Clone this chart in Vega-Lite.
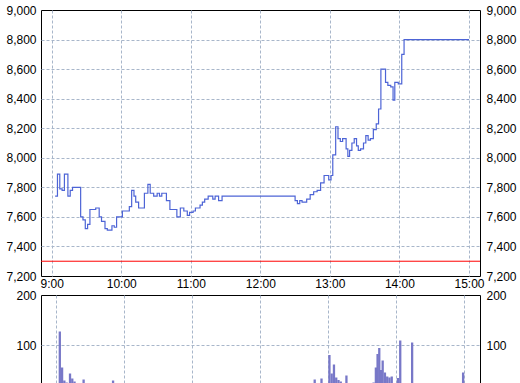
{
  "$schema": "https://vega.github.io/schema/vega-lite/v6.json",
  "padding": {"left": 5, "top": 3, "right": 0, "bottom": 0},
  "bounds": "flush",
  "spacing": 19,
  "config": {
    "view": {"stroke": "#000000", "strokeWidth": 1},
    "axis": {
      "labelFont": "Liberation Sans",
      "labelFontSize": 12,
      "labelColor": "#000000",
      "ticks": false,
      "domain": false,
      "title": null,
      "gridColor": "#a8b6ca",
      "gridDash": [3, 2],
      "gridWidth": 1,
      "labelFlush": false,
      "labelOverlap": false
    }
  },
  "datasets": {
    "price": [
      {"t": "2024-01-02T09:03:00", "p": 7740},
      {"t": "2024-01-02T09:05:00", "p": 7890},
      {"t": "2024-01-02T09:07:00", "p": 7790},
      {"t": "2024-01-02T09:09:00", "p": 7780},
      {"t": "2024-01-02T09:11:00", "p": 7890},
      {"t": "2024-01-02T09:14:00", "p": 7740},
      {"t": "2024-01-02T09:16:00", "p": 7780},
      {"t": "2024-01-02T09:18:00", "p": 7800},
      {"t": "2024-01-02T09:25:00", "p": 7600},
      {"t": "2024-01-02T09:27:00", "p": 7580},
      {"t": "2024-01-02T09:29:00", "p": 7520},
      {"t": "2024-01-02T09:31:00", "p": 7550},
      {"t": "2024-01-02T09:33:00", "p": 7650},
      {"t": "2024-01-02T09:38:00", "p": 7660},
      {"t": "2024-01-02T09:41:00", "p": 7600},
      {"t": "2024-01-02T09:43:00", "p": 7570},
      {"t": "2024-01-02T09:46:00", "p": 7520},
      {"t": "2024-01-02T09:48:00", "p": 7510},
      {"t": "2024-01-02T09:52:00", "p": 7540},
      {"t": "2024-01-02T09:54:00", "p": 7530},
      {"t": "2024-01-02T09:56:00", "p": 7600},
      {"t": "2024-01-02T10:01:00", "p": 7640},
      {"t": "2024-01-02T10:07:00", "p": 7670},
      {"t": "2024-01-02T10:09:00", "p": 7780},
      {"t": "2024-01-02T10:11:00", "p": 7740},
      {"t": "2024-01-02T10:12:30", "p": 7700},
      {"t": "2024-01-02T10:15:00", "p": 7660},
      {"t": "2024-01-02T10:20:00", "p": 7760},
      {"t": "2024-01-02T10:23:00", "p": 7820},
      {"t": "2024-01-02T10:25:00", "p": 7760},
      {"t": "2024-01-02T10:28:00", "p": 7740},
      {"t": "2024-01-02T10:31:00", "p": 7760},
      {"t": "2024-01-02T10:33:00", "p": 7740},
      {"t": "2024-01-02T10:35:00", "p": 7760},
      {"t": "2024-01-02T10:39:00", "p": 7710},
      {"t": "2024-01-02T10:42:00", "p": 7650},
      {"t": "2024-01-02T10:48:00", "p": 7600},
      {"t": "2024-01-02T10:51:00", "p": 7660},
      {"t": "2024-01-02T10:54:00", "p": 7640},
      {"t": "2024-01-02T10:57:00", "p": 7610},
      {"t": "2024-01-02T10:59:00", "p": 7630},
      {"t": "2024-01-02T11:02:00", "p": 7640},
      {"t": "2024-01-02T11:04:00", "p": 7660},
      {"t": "2024-01-02T11:08:00", "p": 7680},
      {"t": "2024-01-02T11:10:00", "p": 7700},
      {"t": "2024-01-02T11:12:00", "p": 7720},
      {"t": "2024-01-02T11:15:00", "p": 7740},
      {"t": "2024-01-02T11:19:00", "p": 7720},
      {"t": "2024-01-02T11:21:00", "p": 7740},
      {"t": "2024-01-02T11:24:00", "p": 7710},
      {"t": "2024-01-02T11:27:00", "p": 7740},
      {"t": "2024-01-02T12:30:00", "p": 7710},
      {"t": "2024-01-02T12:32:00", "p": 7690},
      {"t": "2024-01-02T12:34:00", "p": 7710},
      {"t": "2024-01-02T12:36:00", "p": 7700},
      {"t": "2024-01-02T12:40:00", "p": 7720},
      {"t": "2024-01-02T12:43:00", "p": 7750},
      {"t": "2024-01-02T12:46:00", "p": 7770},
      {"t": "2024-01-02T12:49:00", "p": 7780},
      {"t": "2024-01-02T12:52:00", "p": 7830},
      {"t": "2024-01-02T12:55:00", "p": 7880},
      {"t": "2024-01-02T12:59:00", "p": 7850},
      {"t": "2024-01-02T13:01:00", "p": 7880},
      {"t": "2024-01-02T13:02:30", "p": 8020},
      {"t": "2024-01-02T13:05:00", "p": 8210},
      {"t": "2024-01-02T13:07:00", "p": 8130},
      {"t": "2024-01-02T13:09:00", "p": 8110},
      {"t": "2024-01-02T13:11:00", "p": 8130},
      {"t": "2024-01-02T13:14:00", "p": 8060},
      {"t": "2024-01-02T13:15:30", "p": 8010},
      {"t": "2024-01-02T13:17:00", "p": 8050},
      {"t": "2024-01-02T13:19:00", "p": 8100},
      {"t": "2024-01-02T13:21:00", "p": 8130},
      {"t": "2024-01-02T13:23:00", "p": 8080},
      {"t": "2024-01-02T13:24:30", "p": 8050},
      {"t": "2024-01-02T13:26:30", "p": 8060},
      {"t": "2024-01-02T13:29:00", "p": 8100},
      {"t": "2024-01-02T13:31:00", "p": 8150},
      {"t": "2024-01-02T13:33:00", "p": 8120},
      {"t": "2024-01-02T13:35:00", "p": 8130},
      {"t": "2024-01-02T13:37:30", "p": 8190},
      {"t": "2024-01-02T13:40:00", "p": 8230},
      {"t": "2024-01-02T13:42:00", "p": 8330},
      {"t": "2024-01-02T13:44:00", "p": 8600},
      {"t": "2024-01-02T13:48:00", "p": 8510},
      {"t": "2024-01-02T13:50:00", "p": 8490},
      {"t": "2024-01-02T13:52:30", "p": 8480},
      {"t": "2024-01-02T13:54:30", "p": 8390},
      {"t": "2024-01-02T13:56:00", "p": 8510},
      {"t": "2024-01-02T13:59:00", "p": 8500},
      {"t": "2024-01-02T14:02:00", "p": 8700},
      {"t": "2024-01-02T14:04:00", "p": 8800},
      {"t": "2024-01-02T15:00:00", "p": 8800}
    ],
    "volume": [
      {"t": "2024-01-02T09:03:00", "v": 127},
      {"t": "2024-01-02T09:05:00", "v": 55},
      {"t": "2024-01-02T09:07:00", "v": 29},
      {"t": "2024-01-02T09:09:00", "v": 25},
      {"t": "2024-01-02T09:12:00", "v": 43},
      {"t": "2024-01-02T09:14:00", "v": 33},
      {"t": "2024-01-02T09:16:00", "v": 27},
      {"t": "2024-01-02T09:24:00", "v": 31},
      {"t": "2024-01-02T09:50:00", "v": 29},
      {"t": "2024-01-02T12:48:00", "v": 31},
      {"t": "2024-01-02T12:54:00", "v": 33},
      {"t": "2024-01-02T13:01:00", "v": 80},
      {"t": "2024-01-02T13:03:00", "v": 43},
      {"t": "2024-01-02T13:05:00", "v": 61},
      {"t": "2024-01-02T13:07:00", "v": 35},
      {"t": "2024-01-02T13:09:00", "v": 30},
      {"t": "2024-01-02T13:11:00", "v": 27},
      {"t": "2024-01-02T13:16:00", "v": 39},
      {"t": "2024-01-02T13:40:00", "v": 25},
      {"t": "2024-01-02T13:42:00", "v": 55},
      {"t": "2024-01-02T13:43:30", "v": 82},
      {"t": "2024-01-02T13:45:00", "v": 94},
      {"t": "2024-01-02T13:46:30", "v": 50},
      {"t": "2024-01-02T13:48:00", "v": 69},
      {"t": "2024-01-02T13:50:00", "v": 45},
      {"t": "2024-01-02T13:52:00", "v": 37},
      {"t": "2024-01-02T13:54:00", "v": 35},
      {"t": "2024-01-02T13:56:00", "v": 37},
      {"t": "2024-01-02T14:01:30", "v": 34},
      {"t": "2024-01-02T14:03:30", "v": 109},
      {"t": "2024-01-02T14:14:00", "v": 105},
      {"t": "2024-01-02T14:59:00", "v": 45}
    ],
    "base": [{"level": 7300}]
  },
  "vconcat": [
    {
      "width": 439,
      "height": 266,
      "layer": [
        {
          "data": {"name": "price"},
          "mark": {"type": "line", "interpolate": "step-after", "color": "#4d64d6", "strokeWidth": 1.2},
          "encoding": {
            "x": {
              "field": "t", "type": "temporal",
              "scale": {"domain": [
                {"year": 2024, "month": 1, "date": 2, "hours": 8, "minutes": 50, "seconds": 48},
                {"year": 2024, "month": 1, "date": 2, "hours": 15, "minutes": 9, "seconds": 30}
              ]},
              "axis": {
                "orient": "bottom", "format": "%-H:%M", "labelPadding": 2,
                "values": [
                  {"year": 2024, "month": 1, "date": 2, "hours": 9},
                  {"year": 2024, "month": 1, "date": 2, "hours": 10},
                  {"year": 2024, "month": 1, "date": 2, "hours": 11},
                  {"year": 2024, "month": 1, "date": 2, "hours": 12},
                  {"year": 2024, "month": 1, "date": 2, "hours": 13},
                  {"year": 2024, "month": 1, "date": 2, "hours": 14},
                  {"year": 2024, "month": 1, "date": 2, "hours": 15}
                ]
              }
            },
            "y": {
              "field": "p", "type": "quantitative",
              "scale": {"domain": [7200, 9000], "nice": false, "zero": false},
              "axis": {
                "orient": "left",
                "values": [7200, 7400, 7600, 7800, 8000, 8200, 8400, 8600, 8800, 9000],
                "format": ",d", "labelPadding": 5,
                "gridOpacity": {"condition": {"test": "datum.value <= 7200 || datum.value >= 9000", "value": 0}, "value": 1}
              }
            }
          }
        },
        {
          "data": {"name": "base"},
          "mark": {"type": "rule", "color": "#ff0000", "strokeWidth": 1},
          "encoding": {
            "y": {
              "field": "level", "type": "quantitative",
              "axis": {"orient": "right", "values": [7200, 7400, 7600, 7800, 8000, 8200, 8400, 8600, 8800, 9000], "format": ",d", "labelPadding": 6, "grid": false}
            }
          }
        }
      ],
      "resolve": {"axis": {"y": "independent"}}
    },
    {
      "width": 439,
      "height": 100,
      "data": {"name": "volume"},
      "layer": [
        {
          "mark": {"type": "bar", "color": "#7878c8", "width": 2.3},
          "encoding": {
            "x": {
              "field": "t", "type": "temporal",
              "scale": {"domain": [
                {"year": 2024, "month": 1, "date": 2, "hours": 8, "minutes": 50, "seconds": 48},
                {"year": 2024, "month": 1, "date": 2, "hours": 15, "minutes": 9, "seconds": 30}
              ]},
              "axis": {
                "orient": "bottom", "labels": false,
                "values": [
                  {"year": 2024, "month": 1, "date": 2, "hours": 9},
                  {"year": 2024, "month": 1, "date": 2, "hours": 10},
                  {"year": 2024, "month": 1, "date": 2, "hours": 11},
                  {"year": 2024, "month": 1, "date": 2, "hours": 12},
                  {"year": 2024, "month": 1, "date": 2, "hours": 13},
                  {"year": 2024, "month": 1, "date": 2, "hours": 14},
                  {"year": 2024, "month": 1, "date": 2, "hours": 15}
                ]
              }
            },
            "y": {
              "field": "v", "type": "quantitative",
              "scale": {"domain": [0, 200], "nice": false},
              "axis": {
                "orient": "left", "values": [100, 200], "labelPadding": 5,
                "gridOpacity": {"condition": {"test": "datum.value >= 200", "value": 0}, "value": 1}
              }
            }
          }
        },
        {
          "mark": {"type": "bar", "opacity": 0, "width": 2.3},
          "encoding": {
            "x": {"field": "t", "type": "temporal"},
            "y": {
              "field": "v", "type": "quantitative",
              "axis": {"orient": "right", "values": [100, 200], "labelPadding": 6, "grid": false}
            }
          }
        }
      ],
      "resolve": {"axis": {"y": "independent"}}
    }
  ]
}
